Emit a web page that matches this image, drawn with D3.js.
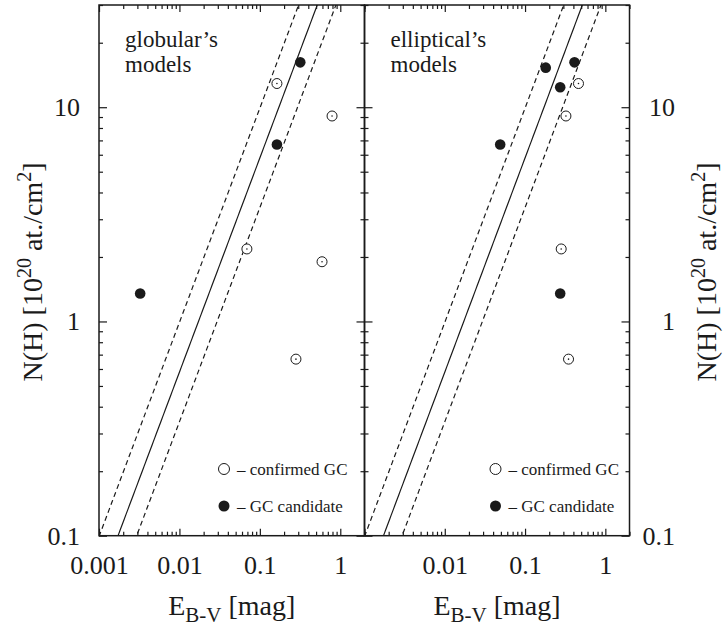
<!DOCTYPE html>
<html><head><meta charset="utf-8">
<script src="https://cdn.jsdelivr.net/npm/d3@7"></script>
<style>
html,body{margin:0;padding:0;background:#fff;}
svg{display:block;font-family:"Liberation Serif","Times New Roman",serif;}
</style></head>
<body>
<svg id="chart" width="723" height="626"></svg>
<script>
// ---- data ----
const globE    = [0.318, 0.163, 0.79, 0.163, 0.069, 0.593, 0.00325, 0.281];
const globN    = [16.2, 12.9, 9.1, 6.7, 2.18, 1.90, 1.35, 0.667];
const globType = ["cand","conf","conf","cand","conf","conf","cand","conf"];

const ellE    = [0.181, 0.413, 0.463, 0.274, 0.323, 0.049, 0.282, 0.274, 0.348];
const ellN    = [15.3, 16.2, 12.9, 12.4, 9.1, 6.7, 2.18, 1.35, 0.667];
const ellType = ["cand","cand","conf","cand","conf","cand","conf","cand","conf"];

// N(H) = k * E(B-V) relations (units 1e20 at/cm^2): mean and dispersion bounds
const relCoef  = [58, 99, 34];
const relStyle = ["solid","dashed","dashed"];

const xMajor = [0.001, 0.01, 0.1, 1];
const xTickLabelsLeft  = ["0.001","0.01","0.1","1"];
const xTickLabelsRight = ["","0.01","0.1","1"];
const yMajor = [0.1, 1, 10];
const yTickLabels = ["0.1","1","10"];
const panelTitles = [["globular\u2019s","models"],["elliptical\u2019s","models"]];
const legendLabels = ["\u2013 confirmed GC","\u2013 GC candidate"];

// ---- layout ----
const svg = d3.select("#chart");
const plotTop = 5, plotBottom = 535.7;
const panels = [
  {x0: 99, x1: 364.5, E: globE, N: globN, T: globType, title: panelTitles[0], xl: xTickLabelsLeft, side: "left"},
  {x0: 364.5, x1: 629.5, E: ellE, N: ellN, T: ellType, title: panelTitles[1], xl: xTickLabelsRight, side: "right"}
];
const xDom = [0.001, 2], yDom = [0.1, 30];
const ink = "#1a1a1a";

const y = d3.scaleLog().domain(yDom).range([plotBottom, plotTop]);

function minors(dom){
  const out=[];
  for(let e=-4;e<=2;e++){for(let m=2;m<=9;m++){const v=m*Math.pow(10,e); if(v>=dom[0]*0.999 && v<=dom[1]*1.001) out.push(v);}}
  return out;
}
const xMinor = minors(xDom), yMinor = minors(yDom);

panels.forEach((p,pi)=>{
  const x = d3.scaleLog().domain(xDom).range([p.x0, p.x1]);
  const g = svg.append("g");
  const clipId = "clip"+pi;
  svg.append("clipPath").attr("id",clipId).append("rect")
    .attr("x",p.x0).attr("y",plotTop).attr("width",p.x1-p.x0).attr("height",plotBottom-plotTop);

  // relation lines
  const Es = d3.range(0, 201).map(i => Math.pow(10, Math.log10(xDom[0]) + i*(Math.log10(xDom[1])-Math.log10(xDom[0]))/200));
  relCoef.forEach((k,i)=>{
    const line = d3.line().x(d=>x(d)).y(d=>y(k*d));
    g.append("path").attr("d", line(Es.filter(e=>k*e>=0.05 && k*e<=60)))
      .attr("fill","none").attr("stroke",ink).attr("stroke-width",1.2)
      .attr("stroke-dasharray", relStyle[i]==="dashed" ? "5,3.5" : null)
      .attr("clip-path","url(#"+clipId+")");
  });

  // points
  p.E.forEach((e,i)=>{
    const cx = x(e), cy = y(p.N[i]);
    if(p.T[i]==="cand"){
      g.append("circle").attr("cx",cx).attr("cy",cy).attr("r",5.3).attr("fill",ink);
    } else {
      g.append("circle").attr("cx",cx).attr("cy",cy).attr("r",5).attr("fill","#fff").attr("stroke",ink).attr("stroke-width",1);
      g.append("circle").attr("cx",cx).attr("cy",cy).attr("r",0.8).attr("fill",ink);
    }
  });

  // axes
  const styleAxis = sel => { sel.select(".domain").remove(); sel.selectAll("line").attr("stroke",ink).attr("stroke-width",1.2); };
  const fontAx = sel => sel.selectAll("text").attr("font-family","Liberation Serif").attr("font-size",26).attr("fill",ink);

  // bottom
  const bMaj = g.append("g").attr("transform",`translate(0,${plotBottom})`)
    .call(d3.axisBottom(x).tickValues(xMajor).tickSize(-7).tickPadding(20).tickFormat((d,i)=>p.xl[i]));
  styleAxis(bMaj); fontAx(bMaj);
  const bMin = g.append("g").attr("transform",`translate(0,${plotBottom})`)
    .call(d3.axisBottom(x).tickValues(xMinor).tickSize(-4).tickFormat(""));
  styleAxis(bMin);
  // top
  const tMaj = g.append("g").attr("transform",`translate(0,${plotTop})`)
    .call(d3.axisTop(x).tickValues(xMajor).tickSize(-7).tickFormat(""));
  styleAxis(tMaj);
  const tMin = g.append("g").attr("transform",`translate(0,${plotTop})`)
    .call(d3.axisTop(x).tickValues(xMinor).tickSize(-4).tickFormat(""));
  styleAxis(tMin);
  // left
  const lMaj = g.append("g").attr("transform",`translate(${p.x0},0)`)
    .call(d3.axisLeft(y).tickValues(yMajor).tickSize(-8).tickPadding(19).tickFormat((d,i)=> p.side==="left" ? yTickLabels[i] : ""));
  styleAxis(lMaj); fontAx(lMaj);
  const lMin = g.append("g").attr("transform",`translate(${p.x0},0)`)
    .call(d3.axisLeft(y).tickValues(yMinor).tickSize(-4).tickFormat(""));
  styleAxis(lMin);
  // right
  const rMaj = g.append("g").attr("transform",`translate(${p.x1},0)`)
    .call(d3.axisRight(y).tickValues(yMajor).tickSize(-8).tickPadding(45.5).tickFormat((d,i)=> p.side==="right" ? yTickLabels[i] : ""));
  styleAxis(rMaj); fontAx(rMaj);
  rMaj.selectAll("text").attr("text-anchor","end");
  const rMin = g.append("g").attr("transform",`translate(${p.x1},0)`)
    .call(d3.axisRight(y).tickValues(yMinor).tickSize(-4).tickFormat(""));
  styleAxis(rMin);

  // frame
  g.append("rect").attr("x",p.x0).attr("y",plotTop).attr("width",p.x1-p.x0).attr("height",plotBottom-plotTop)
    .attr("fill","none").attr("stroke",ink).attr("stroke-width",1.5);

  // panel title (two lines)
  g.append("text").attr("x",p.x0+26).attr("y",46.5).attr("font-size",23).attr("fill",ink).text(p.title[0]);
  g.append("text").attr("x",p.x0+26).attr("y",72).attr("font-size",23).attr("fill",ink).text(p.title[1]);

  // legend
  const lx = p.side==="left" ? 224 : 495.5;
  const ly = [469, 506];
  g.append("circle").attr("cx",lx).attr("cy",ly[0]).attr("r",5.5).attr("fill","#fff").attr("stroke",ink).attr("stroke-width",1);
  g.append("circle").attr("cx",lx).attr("cy",ly[1]).attr("r",5.5).attr("fill",ink);
  legendLabels.forEach((t,i)=>{
    g.append("text").attr("x",lx+13).attr("y",ly[i]+5.5).attr("font-size",17).attr("fill",ink).text(t);
  });

  // x title
  const xt = g.append("text").attr("x",(p.x0+p.x1)/2).attr("y",615).attr("text-anchor","middle")
    .attr("font-size",28).attr("fill",ink);
  xt.append("tspan").text("E");
  xt.append("tspan").attr("font-size",21).attr("dy",7).text("B-V");
  xt.append("tspan").attr("dy",-7).text(" [mag]");
});

// y titles
function yTitle(xpos){
  const t = svg.append("text").attr("transform",`translate(${xpos},272) rotate(-90)`)
    .attr("text-anchor","middle").attr("font-size",28).attr("fill",ink);
  t.append("tspan").text("N(H) [10");
  t.append("tspan").attr("font-size",20).attr("dy",-11).text("20");
  t.append("tspan").attr("dy",11).text(" at./cm");
  t.append("tspan").attr("font-size",20).attr("dy",-11).text("2");
  t.append("tspan").attr("dy",11).text("]");
}
yTitle(42);
yTitle(716);
</script>
</body></html>
